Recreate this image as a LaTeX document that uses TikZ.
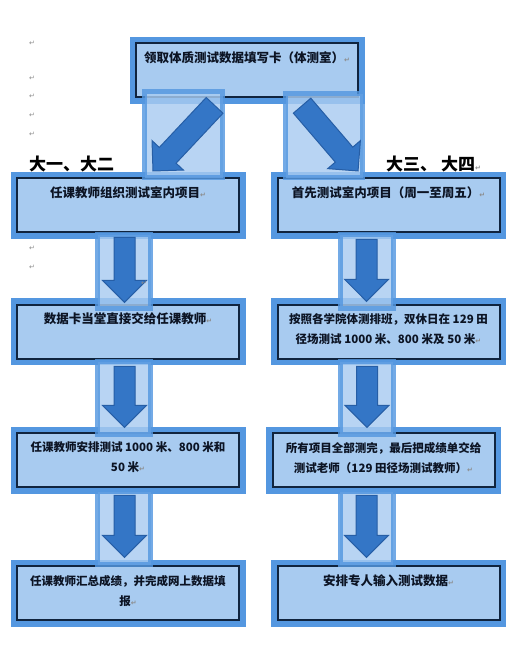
\documentclass[tikz,border=0pt]{standalone}
\usepackage{fontspec}
\setmainfont{Noto Sans CJK SC}
\newfontfamily\markfont{DejaVu Sans}
\usetikzlibrary{shapes.arrows}
\definecolor{frameblue}{RGB}{84,151,224}
\definecolor{fillblue}{RGB}{168,203,240}
\definecolor{navy}{RGB}{16,36,62}
\definecolor{inkdark}{RGB}{12,20,36}
\definecolor{arrowblue}{RGB}{52,118,198}
\definecolor{arrowedge}{RGB}{38,94,166}
\definecolor{markgray}{RGB}{140,140,140}
\newcommand{\retmark}{{\markfont\color{markgray}\fontsize{7}{7}\selectfont ↵}}
\begin{document}
\begin{tikzpicture}[x=1pt, y=-1pt,
    card/.style = {preaction={draw=frameblue, line width=13pt}, fill=fillblue,
                   draw=navy, line width=2pt, minimum width=222pt, minimum height=54pt,
                   inner sep=0pt, align=center, text=inkdark,
                   font=\bfseries\fontsize{12.5}{20}\selectfont, execute at end node=\strut},
    wrapped/.style = {font=\bfseries\fontsize{11.5}{20}\selectfont},
    arrowframe/.style = {draw=frameblue, fill=fillblue, line width=5pt, opacity=0.82,
                   inner sep=0pt},
    blockarrow/.style = {single arrow, draw=arrowedge, fill=arrowblue, line width=1pt,
                   inner xsep=0pt, inner ysep=10pt, single arrow head extend=11.5pt,
                   single arrow head indent=0pt, anchor=tip},
    yearlabel/.style = {anchor=west, inner sep=0pt, text=black,
                   font=\bfseries\fontsize{17}{17}\selectfont},
    parmark/.style = {inner sep=0pt, text=markgray, font=\markfont\fontsize{7}{7}\selectfont}]
  \useasboundingbox (0,0) rectangle (531,648);

  % stray paragraph marks
  \foreach \y in {43,78,96,115,134,248,267}
    \node[parmark] (pm-\y) at (32,\y) {↵};

  % boxes
  \node[card] (take)    at (247,70)    {领取体质测试数据填写卡（体测室）\retmark\\};
  \node[card] (lIndoor) at (128,205)   {任课教师组织测试室内项目\retmark\\};
  \node[card] (rIndoor) at (388.5,205) {首先测试室内项目（周一至周五）\retmark\\};
  \node[card] (lCard)   at (128,331.5) {数据卡当堂直接交给任课教师\retmark\\};
  \node[card, wrapped] (rField) at (388.5,331.5)
        {按照各学院体测排班，双休日在 129 田\\径场测试 1000 米、800 米及 50 米\retmark};
  \node[card, wrapped] (lField) at (128,460)
        {任课教师安排测试 1000 米、800 米和\\50 米\retmark};
  \node[card, wrapped] (rHand)  at (383.5,460)
        {所有项目全部测完，最后把成绩单交给\\测试老师（129 田径场测试教师）\retmark};
  \node[card, wrapped] (lSum)   at (128,593)
        {任课教师汇总成绩，并完成网上数据填\\报\retmark};
  \node[card] (rInput)  at (388.5,593) {安排专人输入测试数据\retmark\\};

  % year labels
  \node[yearlabel] (junior) at (29,164)  {大一、大二};
  \node[yearlabel] (senior) at (386,164) {大三、 大四\retmark};

  % arrow frames
  \node[arrowframe, minimum width=78pt, minimum height=86pt] (fL0) at (183.5,134.5) {};
  \node[arrowframe, minimum width=77pt, minimum height=84pt] (fR0) at (324,135.5) {};
  \foreach \n/\y/\h in {1/271.5/74, 2/398/73, 3/528/73} {
    \node[arrowframe, minimum width=53pt, minimum height=\h pt] (fL\n) at (124,\y) {};
    \node[arrowframe, minimum width=53pt, minimum height=\h pt] (fR\n) at (366.5,\y) {};
  }

  % arrows, placed by their tips
  \node[blockarrow, inner ysep=11pt, single arrow head extend=10pt,
        minimum height=90pt, rotate=-133.2] (aL0) at (152.5,171.5) {};
  \node[blockarrow, inner ysep=11pt, single arrow head extend=10pt,
        minimum height=86pt, rotate=-49.4] (aR0) at (358.5,171.5) {};
  \node[blockarrow, minimum height=65pt, rotate=-90] (aL1) at (124.5,303) {};
  \node[blockarrow, minimum height=62pt, rotate=-90] (aR1) at (366.5,302) {};
  \node[blockarrow, minimum height=61pt, rotate=-90] (aL2) at (124.5,428) {};
  \node[blockarrow, minimum height=61pt, rotate=-90] (aR2) at (367,428) {};
  \node[blockarrow, minimum height=62pt, rotate=-90] (aL3) at (124.5,558) {};
  \node[blockarrow, minimum height=62pt, rotate=-90] (aR3) at (366.5,558) {};

  \node[parmark] (pm-arrow) at (144,283) {↵};
\end{tikzpicture}
\end{document}
